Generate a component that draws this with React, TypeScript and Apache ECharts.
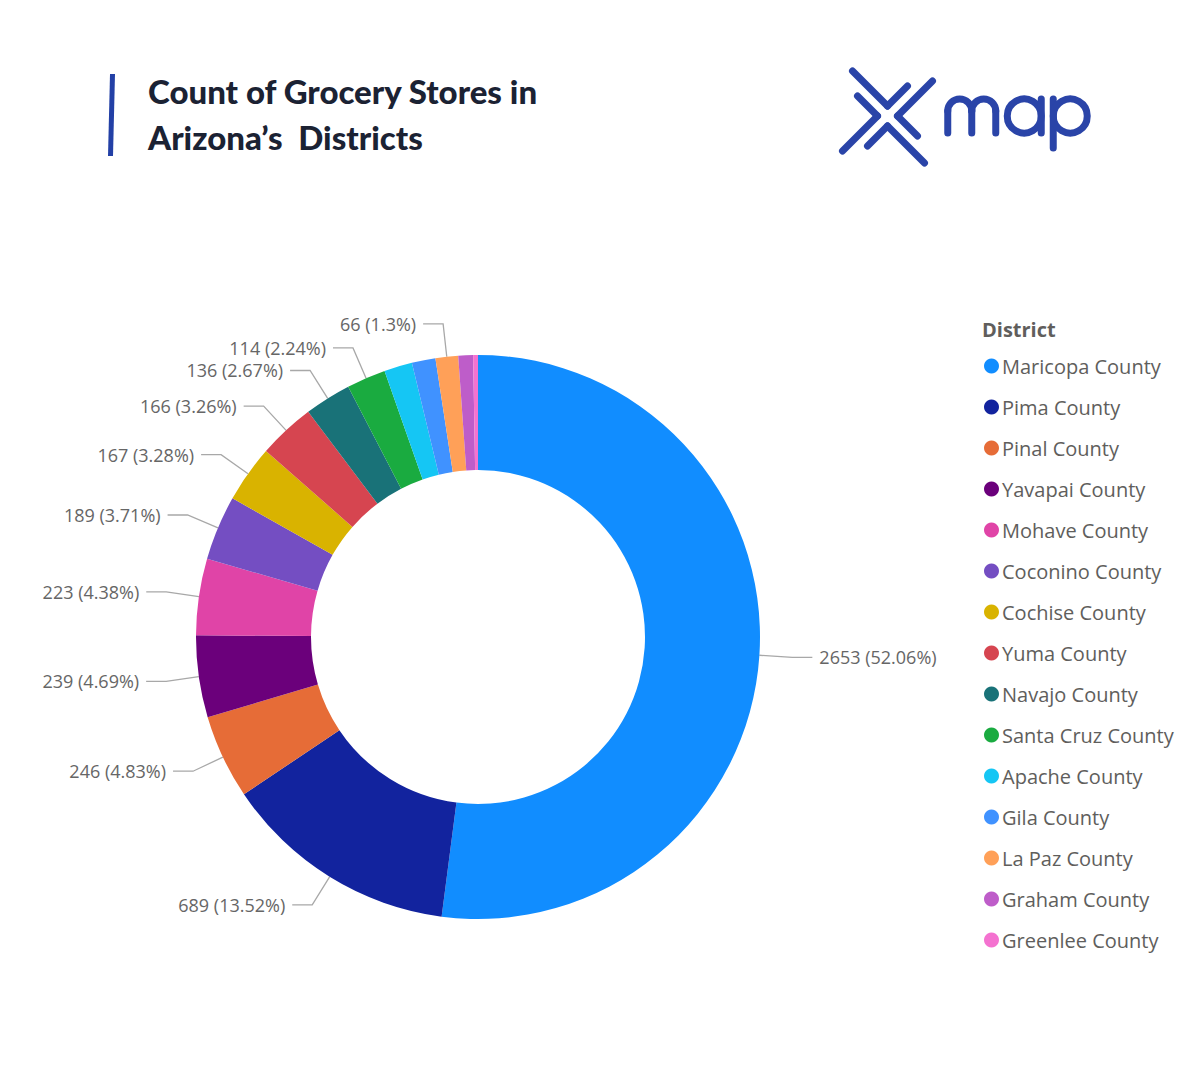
import React, { useEffect, useRef } from "react";
import * as echarts from "echarts";

const districts = [
  "Maricopa County",
  "Pima County",
  "Pinal County",
  "Yavapai County",
  "Mohave County",
  "Coconino County",
  "Cochise County",
  "Yuma County",
  "Navajo County",
  "Santa Cruz County",
  "Apache County",
  "Gila County",
  "La Paz County",
  "Graham County",
  "Greenlee County",
];

const storeCounts = [2653, 689, 246, 239, 223, 189, 167, 166, 136, 114, 82, 69, 66, 43, 14];

const sliceColors = [
  "#118DFF",
  "#12239E",
  "#E66C37",
  "#6B007B",
  "#E044A7",
  "#744EC2",
  "#D9B300",
  "#D64550",
  "#197278",
  "#1AAB40",
  "#15C6F4",
  "#4092FF",
  "#FFA058",
  "#BE5DC9",
  "#F472D0",
];

const unlabeledDistricts = ["Apache County", "Gila County", "Graham County", "Greenlee County"];

const titleLines = ["Count of Grocery Stores in", "Arizona\u2019s  Districts"];
const legendTitle = "District";

const BRAND = "#2A44A8";

export default function App() {
  const ref = useRef<HTMLDivElement>(null);

  useEffect(() => {
    if (!ref.current) return;
    const chart = echarts.init(ref.current, undefined, { renderer: "svg" });
    const total = storeCounts.reduce((a, b) => a + b, 0);

    const data = districts.map((name, i) => {
      const hide = unlabeledDistricts.includes(name);
      return {
        name,
        value: storeCounts[i],
        itemStyle: { color: sliceColors[i] },
        label: { show: !hide },
        labelLine: { show: !hide },
      };
    });

    const stroke = { stroke: BRAND, lineWidth: 7, lineCap: "round" as const, fill: "none" };
    const seg = (x1: number, y1: number, x2: number, y2: number) => ({
      type: "line",
      shape: { x1, y1, x2, y2 },
      style: stroke,
    });
    const arc = (cx: number, cy: number, r: number, s: number, e: number) => ({
      type: "arc",
      shape: { cx, cy, r, startAngle: s, endAngle: e, clockwise: true },
      style: stroke,
    });

    const logo = [
      // X mark: four chevrons
      seg(852.5, 71, 887.5, 106),
      seg(887.5, 106, 907.5, 86),
      seg(932.5, 81, 897.5, 116),
      seg(897.5, 116, 917.5, 136),
      seg(887.5, 126, 924.5, 163),
      seg(887.5, 126, 867.5, 146),
      seg(877.5, 116, 842.5, 151),
      seg(877.5, 116, 857.5, 96),
      // m
      seg(947.75, 133, 947.75, 111),
      arc(959.75, 111, 12, Math.PI, Math.PI * 2),
      seg(971.75, 111, 971.75, 133),
      arc(983.75, 111, 12, Math.PI, Math.PI * 2),
      seg(995.75, 111, 995.75, 133),
      // a
      arc(1024.25, 116, 17, 0, Math.PI * 2),
      seg(1041.25, 99, 1041.25, 133),
      // p
      seg(1053.25, 99, 1053.25, 148),
      arc(1070.25, 116, 17, 0, Math.PI * 2),
    ];

    chart.setOption({
      animation: false,
      backgroundColor: "#ffffff",
      title: [
        {
          text: titleLines.join("\n"),
          left: 148,
          top: 68,
          padding: 0,
          textStyle: {
            fontFamily: "Lato",
            fontWeight: 900,
            fontSize: 33,
            lineHeight: 46,
            color: "#1B2233",
          },
        },
        {
          text: legendTitle,
          left: 982,
          top: 319,
          padding: 0,
          textStyle: {
            fontFamily: "Open Sans",
            fontWeight: "bold",
            fontSize: 20,
            color: "#605E5C",
          },
        },
      ],
      legend: {
        orient: "vertical",
        left: 984,
        top: 356,
        padding: 0,
        icon: "circle",
        itemWidth: 15,
        itemHeight: 15,
        itemGap: 21,
        selectedMode: false,
        textStyle: {
          fontFamily: "Open Sans",
          fontSize: 20,
          color: "#605E5C",
          padding: [0, 0, 0, -2],
        },
        data: districts,
      },
      graphic: [
        {
          type: "line",
          shape: { x1: 112.5, y1: 74, x2: 110.5, y2: 156 },
          style: { stroke: "#2340A6", lineWidth: 5 },
        },
        ...logo,
      ],
      series: [
        {
          type: "pie",
          center: [478, 637],
          radius: [167, 282],
          startAngle: 90,
          clockwise: true,
          avoidLabelOverlap: true,
          itemStyle: { borderWidth: 0 },
          label: {
            show: true,
            position: "outside",
            fontFamily: "Open Sans",
            fontSize: 18,
            color: "#666666",
            distanceToLabelLine: 7,
            formatter: (p: any) => {
              const pct = parseFloat(((p.value / total) * 100).toFixed(2)).toString();
              return `${p.value} (${pct}%)`;
            },
          },
          labelLine: {
            show: true,
            length: 33,
            length2: 20,
            lineStyle: { color: "#A8A8A8", width: 1.3 },
          },
          emphasis: { disabled: true },
          data,
        },
      ],
    });

    return () => chart.dispose();
  }, []);

  return (
    <div
      ref={ref}
      style={{ position: "absolute", left: 0, top: 0, width: 1200, height: 1080, background: "#fff" }}
    />
  );
}
